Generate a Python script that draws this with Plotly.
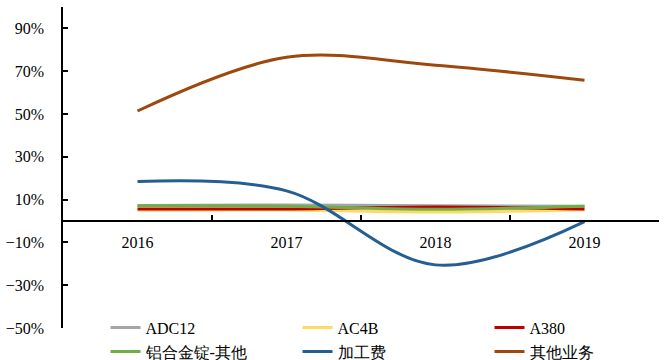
import plotly.graph_objects as go

# Share of gross profit by product line, 2016-2019
years = ["2016", "2017", "2018", "2019"]
adc12 = [0.072, 0.075, 0.071, 0.069]
ac4b = [0.050, 0.051, 0.042, 0.053]
a380 = [0.056, 0.056, 0.065, 0.056]
alloy_other = [0.071, 0.069, 0.055, 0.069]
processing_fee = [0.184, 0.141, -0.205, -0.003]
other_business = [0.514, 0.765, 0.728, 0.658]

series_names = ["ADC12", "AC4B", "A380", "铝合金锭-其他", "加工费", "其他业务"]
series_values = [adc12, ac4b, a380, alloy_other, processing_fee, other_business]
series_colors = ["#A5A5A5", "#FFD966", "#C00000", "#70AD47", "#255E91", "#9E480E"]

y_ticks = [-0.5, -0.3, -0.1, 0.1, 0.3, 0.5, 0.7, 0.9]

FONT = "Liberation Serif"

fig = go.Figure()
for name, vals, color in zip(series_names, series_values, series_colors):
    fig.add_trace(go.Scatter(
        x=years, y=vals, name=name, mode="lines",
        line=dict(color=color, width=3, shape="spline", smoothing=1),
    ))

y_min, y_max = -0.5, 1.0
fig.update_layout(
    width=672, height=360,
    margin=dict(l=63, r=13, t=7, b=32, autoexpand=False),
    paper_bgcolor="white", plot_bgcolor="white",
    font=dict(family=FONT, size=16, color="black"),
    showlegend=True,
    legend=dict(
        orientation="h", xref="container", yref="container",
        x=0.157, y=0.137, xanchor="left", yanchor="top",
        entrywidth=147, entrywidthmode="pixels",
        font=dict(family=FONT, size=16, color="black"),
        bgcolor="rgba(0,0,0,0)", tracegroupgap=0,
    ),
    xaxis=dict(
        type="category", categoryorder="array", categoryarray=years,
        range=[-0.5, 3.5],
        anchor="free", position=(0 - y_min) / (y_max - y_min),
        showline=True, linecolor="black", linewidth=1.5,
        ticks="inside", ticklen=5, tickwidth=1.5, tickcolor="black",
        tickson="boundaries", ticklabelstandoff=7,
        showgrid=False, zeroline=False,
    ),
    yaxis=dict(
        range=[y_min, y_max], tickvals=y_ticks, tickformat=".0%",
        showline=True, linecolor="black", linewidth=1.5,
        ticks="inside", ticklen=5, tickwidth=1.5, tickcolor="black",
        ticklabelstandoff=14,
        showgrid=False, zeroline=False,
    ),
)

fig.write_html("out.html")
